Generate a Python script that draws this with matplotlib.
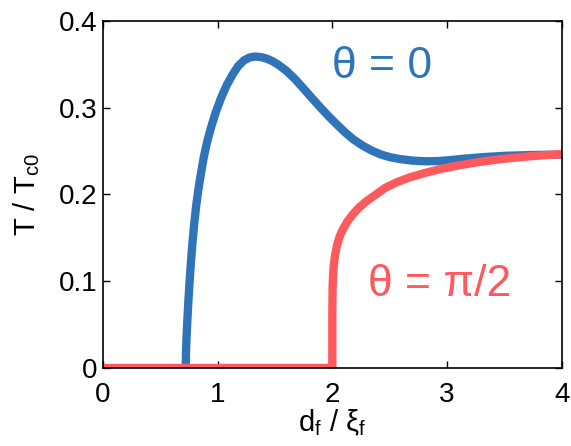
import matplotlib
matplotlib.use("Agg")
import matplotlib.pyplot as plt

plt.rcParams['font.family'] = ['Liberation Sans', 'DejaVu Sans']
plt.rcParams['mathtext.default'] = 'regular'

# theta = 0 curve
x_zero = [0.723, 0.725, 0.73, 0.737, 0.745, 0.755, 0.767, 0.78, 0.795, 0.812, 0.832,
          0.855, 0.88, 0.91, 0.945, 0.985, 1.03, 1.08, 1.13, 1.18, 1.23, 1.28,
          1.33, 1.38, 1.43, 1.48, 1.53, 1.60, 1.675, 1.746, 1.82, 1.891, 1.96,
          2.037, 2.11, 2.18, 2.26, 2.34, 2.42, 2.5, 2.588, 2.70, 2.82, 2.92,
          3.02, 3.15, 3.31, 3.5, 3.75, 4.0]
t_zero = [0.0, 0.018, 0.036, 0.055, 0.075, 0.097, 0.12, 0.142, 0.164, 0.185, 0.205,
          0.224, 0.243, 0.261, 0.278, 0.295, 0.311, 0.326, 0.338, 0.348, 0.3545, 0.358,
          0.359, 0.3583, 0.3565, 0.3535, 0.3495, 0.3425, 0.333, 0.3225, 0.3115, 0.301, 0.2912,
          0.281, 0.2717, 0.2638, 0.2566, 0.2508, 0.2462, 0.2430, 0.2408, 0.2390, 0.2382, 0.2385,
          0.2395, 0.2412, 0.2430, 0.2445, 0.2455, 0.246]

# theta = pi/2 curve
x_half = [0.0, 2.0, 2.0, 2.002, 2.006, 2.013, 2.025, 2.042, 2.065, 2.095, 2.13,
          2.175, 2.23, 2.295, 2.37, 2.46, 2.56, 2.67, 2.80, 2.95, 3.10, 3.27,
          3.45, 3.65, 3.82, 4.0]
t_half = [0.0, 0.0, 0.06, 0.09, 0.106, 0.119, 0.131, 0.142, 0.152, 0.1605, 0.1685,
          0.1765, 0.1845, 0.192, 0.199, 0.2075, 0.2140, 0.2195, 0.2245, 0.2295, 0.2335, 0.2372,
          0.2405, 0.2432, 0.2450, 0.2465]

x_ticks = [0, 1, 2, 3, 4]
x_labels = ['0', '1', '2', '3', '4']
y_ticks = [0, 0.1, 0.2, 0.3, 0.4]
y_labels = ['0', '0.1', '0.2', '0.3', '0.4']

blue = '#2f74b8'
red = '#fe5a5e'

fig = plt.figure(figsize=(5.71, 4.46), dpi=100)
ax = fig.add_axes([0.180, 0.175, 0.804, 0.778])

# blue first, red drawn on top of it
ax.plot(x_zero, t_zero, color=blue, lw=6, solid_capstyle='butt', solid_joinstyle='round')
ax.plot(x_half, t_half, color=red, lw=6, solid_capstyle='butt', solid_joinstyle='round')

ax.set_xlim(0, 4)
ax.set_ylim(0, 0.4)
ax.set_xticks(x_ticks)
ax.set_xticklabels(x_labels)
ax.set_yticks(y_ticks)
ax.set_yticklabels(y_labels)
ax.tick_params(direction='in', top=True, right=True, length=5, width=1,
               labelsize=20, pad=4)
ax.tick_params(axis='x', pad=10)
for s in ax.spines.values():
    s.set_linewidth(1.2)

ax.set_xlabel(r'd$_{f}$ / ξ$_{f}$', fontsize=21, labelpad=0)
ax.set_ylabel(r'T / T$_{c0}$', fontsize=21, labelpad=12)

ax.text(2.0, 0.348, 'θ = 0', color=blue, fontsize=32, va='center', ha='left')
ax.text(2.31, 0.0957, 'θ = π/2', color=red, fontsize=32, va='center', ha='left')

fig.savefig('out.png', dpi=100)
